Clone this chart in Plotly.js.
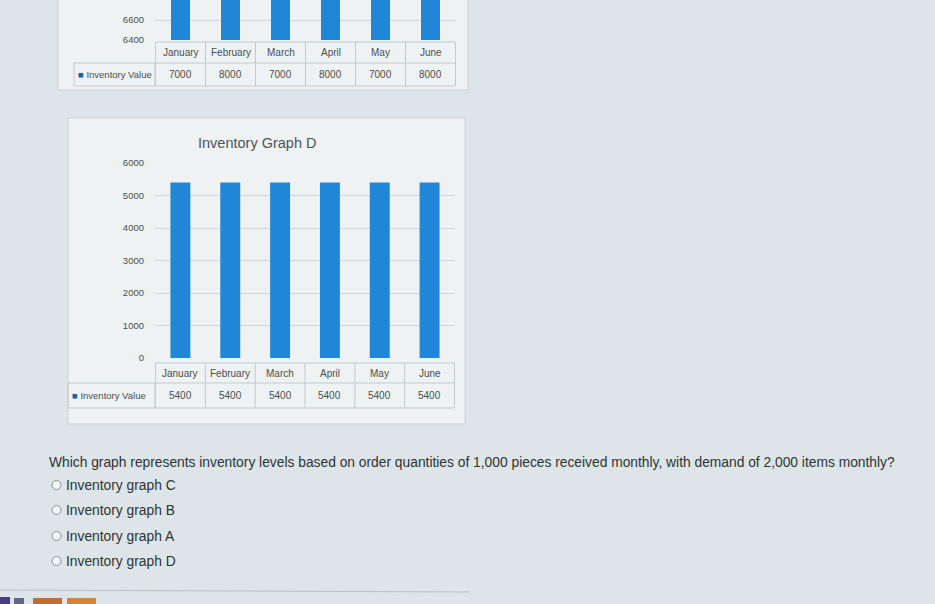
<!DOCTYPE html>
<html>
<head>
<meta charset="utf-8">
<script src="https://cdn.plot.ly/plotly-3.0.1.min.js"></script>
<style>
html,body{margin:0;padding:0;background:#dde5e8;}
#chart{width:935px;height:604px;}
</style>
</head>
<body>
<div id="chart"></div>
<script>
// ---- data ----
const months = ['January', 'February', 'March', 'April', 'May', 'June'];
const graphTopValues = [7000, 8000, 7000, 8000, 7000, 8000];
const graphTopTicks = [6400, 6600];
const graphDValues = [5400, 5400, 5400, 5400, 5400, 5400];
const graphDTicks = [0, 1000, 2000, 3000, 4000, 5000, 6000];
const seriesName = 'Inventory Value';
const graphDTitle = 'Inventory Graph D';
const questionText = 'Which graph represents inventory levels based on order quantities of 1,000 pieces received monthly, with demand of 2,000 items monthly?';
const answerOptions = ['Inventory graph C', 'Inventory graph B', 'Inventory graph A', 'Inventory graph D'];

// ---- helpers (pixel -> paper) ----
const W = 935, H = 604;
const px = x => x / W;
const py = y => 1 - y / H;

const barColor = '#1f86d8';
const gridColor = '#cfd5d8';
const textColor = '#4a4f52';
const chartFont = 'Liberation Sans, Arial, sans-serif';
const pageFont = 'Liberation Sans, Arial, sans-serif';
const borderColor = '#c3c9cc';

const traces = [
  {type: 'bar', x: months, y: graphTopValues, xaxis: 'x', yaxis: 'y',
   marker: {color: barColor}, width: 0.38, hoverinfo: 'skip', showlegend: false},
  {type: 'bar', x: months, y: graphDValues, xaxis: 'x2', yaxis: 'y2',
   marker: {color: barColor}, width: 0.4, hoverinfo: 'skip', showlegend: false}
];

const shapes = [];
const annotations = [];

// panels
shapes.push({type: 'rect', xref: 'paper', yref: 'paper', x0: px(58), x1: px(468), y0: py(90), y1: py(-2),
  fillcolor: '#eef2f3', line: {color: '#cdd3d6', width: 1}, layer: 'below'});
shapes.push({type: 'rect', xref: 'paper', yref: 'paper', x0: px(68), x1: px(465), y0: py(424), y1: py(118),
  fillcolor: '#eef2f3', line: {color: '#cdd3d6', width: 1}, layer: 'below'});

// data table builder
function addTable(xref, yHeadTop, yMid, yBot, legendLeft, values) {
  const n = months.length;
  [yHeadTop, yMid, yBot].forEach(y => shapes.push({type: 'line', xref: xref, yref: 'paper', x0: -0.5, x1: n - 0.5,
    y0: py(y), y1: py(y), line: {color: borderColor, width: 1}}));
  for (let i = 0; i <= n; i++) {
    shapes.push({type: 'line', xref: xref, yref: 'paper', x0: i - 0.5, x1: i - 0.5, y0: py(yHeadTop), y1: py(yBot),
      line: {color: borderColor, width: 1}});
  }
  shapes.push({type: 'rect', xref: 'paper', yref: 'paper', x0: px(legendLeft), x1: px(155), y0: py(yBot), y1: py(yMid),
    line: {color: borderColor, width: 1}});
  months.forEach((m, i) => {
    annotations.push({xref: xref, yref: 'paper', x: m, y: py((yHeadTop + yMid) / 2), text: m, showarrow: false,
      font: {family: chartFont, size: 10, color: textColor}, xanchor: 'center', yanchor: 'middle'});
    annotations.push({xref: xref, yref: 'paper', x: m, y: py((yMid + yBot) / 2), text: String(values[i]), showarrow: false,
      font: {family: chartFont, size: 10, color: textColor}, xanchor: 'center', yanchor: 'middle'});
  });
  annotations.push({xref: 'paper', yref: 'paper', x: px(legendLeft + 2), y: py((yMid + yBot) / 2),
    text: '<span style="color:#1d5fa8">■</span> ' + seriesName, showarrow: false,
    font: {family: chartFont, size: 9.5, color: textColor}, xanchor: 'left', yanchor: 'middle'});
}

addTable('x', 42, 63, 86, 74, graphTopValues);
addTable('x2', 363, 383, 408, 68, graphDValues);

// title
annotations.push({xref: 'paper', yref: 'paper', x: px(257), y: py(143), text: graphDTitle, showarrow: false,
  font: {family: chartFont, size: 14.5, color: '#4f5457'}, xanchor: 'center', yanchor: 'middle'});

// question
annotations.push({xref: 'paper', yref: 'paper', x: px(47), y: py(462), text: questionText, showarrow: false,
  font: {family: pageFont, size: 13.8, color: '#2e3336'}, xanchor: 'left', yanchor: 'middle'});

const optY = [485, 510, 536, 561];
answerOptions.forEach((t, i) => {
  shapes.push({type: 'circle', xref: 'paper', yref: 'paper', x0: px(52), x1: px(61), y0: py(optY[i] + 4.5), y1: py(optY[i] - 4.5),
    line: {color: '#8a9296', width: 1}, fillcolor: '#f2f5f6'});
  annotations.push({xref: 'paper', yref: 'paper', x: px(64), y: py(optY[i]), text: t, showarrow: false,
    font: {family: pageFont, size: 13.8, color: '#2e3336'}, xanchor: 'left', yanchor: 'middle'});
});

// bottom edge line and taskbar hints
shapes.push({type: 'line', xref: 'paper', yref: 'paper', x0: 0, x1: px(470), y0: py(590), y1: py(592), line: {color: '#b9c1c4', width: 1}});
shapes.push({type: 'rect', xref: 'paper', yref: 'paper', x0: 0, x1: px(10), y0: 0, y1: py(597), fillcolor: '#4b3a8a', line: {width: 0}});
shapes.push({type: 'rect', xref: 'paper', yref: 'paper', x0: px(14), x1: px(24), y0: 0, y1: py(598), fillcolor: '#5f6a8a', line: {width: 0}});
shapes.push({type: 'rect', xref: 'paper', yref: 'paper', x0: px(33), x1: px(62), y0: 0, y1: py(598), fillcolor: '#c76a2a', line: {width: 0}});
shapes.push({type: 'rect', xref: 'paper', yref: 'paper', x0: px(67), x1: px(96), y0: 0, y1: py(598), fillcolor: '#d9842d', line: {width: 0}});

const layout = {
  width: W, height: H,
  margin: {l: 0, r: 0, t: 0, b: 0},
  paper_bgcolor: '#dde5e8',
  plot_bgcolor: 'rgba(0,0,0,0)',
  showlegend: false,
  xaxis: {domain: [px(155), px(456)], anchor: 'y', showticklabels: false, showgrid: false, zeroline: false,
    showline: false, ticks: '', fixedrange: true},
  yaxis: {domain: [py(40), py(0)], anchor: 'x', range: [6400, 6800], tickvals: graphTopTicks,
    ticktext: graphTopTicks.map(String), showgrid: true, gridcolor: gridColor, zeroline: false,
    tickfont: {family: chartFont, size: 9.5, color: textColor}, ticklabelstandoff: 10, fixedrange: true},
  xaxis2: {domain: [px(155), px(455)], anchor: 'y2', showticklabels: false, showgrid: false, zeroline: false,
    showline: false, ticks: '', fixedrange: true},
  yaxis2: {domain: [py(358), py(163)], anchor: 'x2', range: [0, 6000], tickvals: graphDTicks,
    ticktext: graphDTicks.map(String), showgrid: true, gridcolor: gridColor, zeroline: false,
    tickfont: {family: chartFont, size: 9.5, color: textColor}, ticklabelstandoff: 10, fixedrange: true},
  shapes: shapes,
  annotations: annotations
};

Plotly.newPlot('chart', traces, layout, {displayModeBar: false, staticPlot: true});
</script>
</body>
</html>
